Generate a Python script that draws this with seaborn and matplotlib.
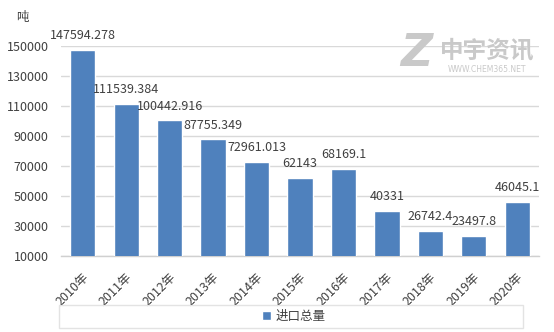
import matplotlib
matplotlib.use("Agg")
import matplotlib.pyplot as plt
import matplotlib.transforms as mtransforms
import seaborn as sns
import pandas as pd
from matplotlib.patches import Rectangle

years = ["2010年", "2011年", "2012年", "2013年", "2014年", "2015年", "2016年",
         "2017年", "2018年", "2019年", "2020年"]
values = [147594.278, 111539.384, 100442.916, 87755.349, 72961.013, 62143,
          68169.1, 40331, 26742.4, 23497.8, 46045.1]
labels = ["147594.278", "111539.384", "100442.916", "87755.349", "72961.013",
          "62143", "68169.1", "40331", "26742.4", "23497.8", "46045.1"]
yticks = [10000, 30000, 50000, 70000, 90000, 110000, 130000, 150000]
series_name = "进口总量"
unit = "吨"

sns.set_theme(style="white")
plt.rcParams["font.family"] = ["Noto Sans CJK SC", "DejaVu Sans"]

df = pd.DataFrame({"year": years, "value": values, "series": series_name})

fig = plt.figure(figsize=(5.54, 3.32), dpi=100)
ax = fig.add_axes([61/554, 1-256/332, 478/554, 210/332])

color = "#4F81BD"
txt = "#404040"
fs = 9
sns.barplot(data=df, x="year", y="value", color=color, width=0.58,
            saturation=1, ax=ax, zorder=3, label=series_name)

ax.set_ylim(10000, 150000)
ax.set_xlim(-0.5, len(years)-0.5)
ax.set_yticks(yticks)
ax.set_yticklabels([str(t) for t in yticks], fontsize=fs, color=txt)
ax.yaxis.grid(True, color="#D9D9D9", linewidth=1, zorder=0)
ax.set_axisbelow(True)
ax.tick_params(axis="y", length=0, pad=9)
ax.set_xlabel("")
ax.set_ylabel("")

for s in ["left", "right", "top"]:
    ax.spines[s].set_visible(False)
ax.spines["bottom"].set_color("#D0D0D0")
ax.spines["bottom"].set_linewidth(1)

ax.set_xticks(range(len(years)))
ax.set_xticklabels(years, rotation=45, ha="right", va="center",
                   rotation_mode="anchor", fontsize=fs, color=txt)
ax.tick_params(axis="x", which="major", length=0, pad=14)
offset = mtransforms.ScaledTranslation(4/100, 0, fig.dpi_scale_trans)
for lab in ax.get_xticklabels():
    lab.set_transform(lab.get_transform() + offset)
ax.set_xticks([i - 0.5 for i in range(len(years)+1)], minor=True)
ax.tick_params(axis="x", which="minor", length=4, color="#D0D0D0", width=1)

for i, (v, lab) in enumerate(zip(values, labels)):
    ax.annotate(lab, (i, v), xytext=(0, 5.5), textcoords="offset points",
                ha="center", va="bottom", fontsize=fs, color=txt,
                annotation_clip=False, zorder=5)

fig.text(16/554, 1-17/332, unit, fontsize=fs, color=txt,
         ha="left", va="center")

# legend box
fig.patches.append(Rectangle((59/554, 1-328/332), 464/554, 23/332,
                             transform=fig.transFigure, fill=False,
                             edgecolor="#E3E3E3", linewidth=1))
leg = ax.legend(loc="center", bbox_to_anchor=(294/554, 1-316/332),
                bbox_transform=fig.transFigure, frameon=False,
                fontsize=fs, handlelength=0.7, handleheight=0.7,
                handletextpad=0.4)
for t in leg.get_texts():
    t.set_color(txt)

# watermark
wm = "#C9C9C9"
fig.text(416/554, 1-54/332, "Z", fontsize=32, fontweight="bold",
         fontstyle="italic", color=wm, ha="center", va="center",
         family=["DejaVu Sans"])
fig.text(487/554, 1-50/332, "中宇资讯", fontsize=17, fontweight="bold",
         color=wm, ha="center", va="center")
fig.text(487/554, 1-69/332, "WWW.CHEM365.NET", fontsize=5.5,
         color=wm, ha="center", va="center", family=["DejaVu Sans"])

fig.savefig("out.png", dpi=100)
